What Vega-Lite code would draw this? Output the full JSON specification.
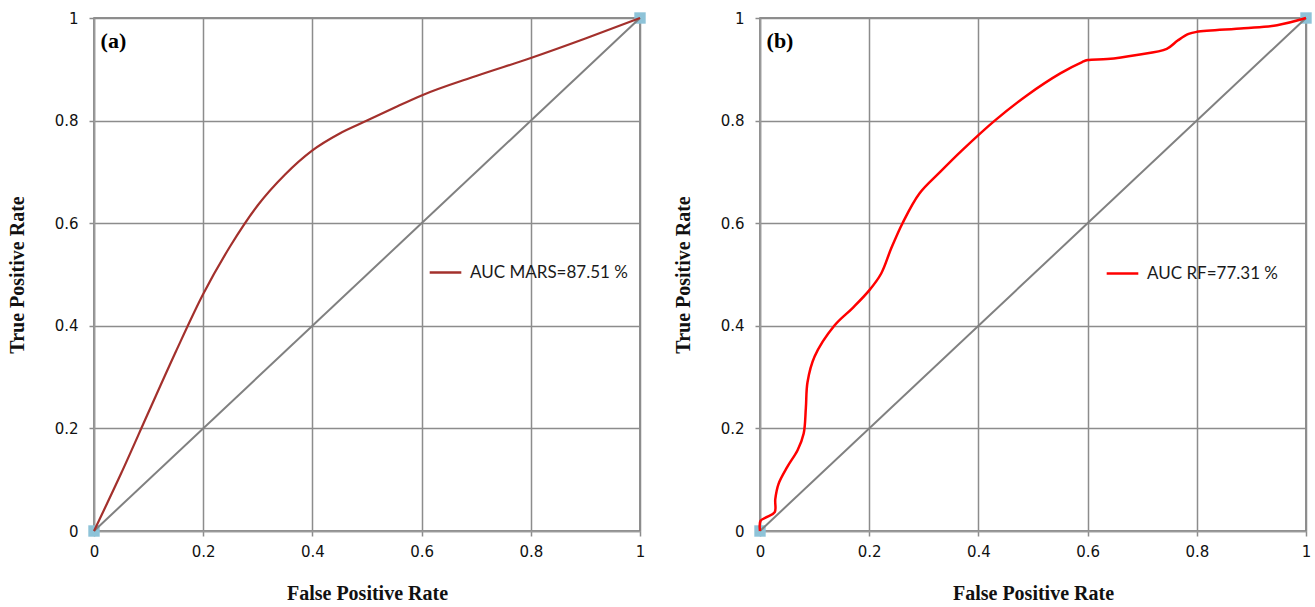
{
  "$schema": "https://vega.github.io/schema/vega-lite/v6.json",
  "background": "white",
  "padding": {"left": 6, "top": 10, "right": 5, "bottom": 5},
  "datasets": {
    "mars": [
      {"fpr": 0, "tpr": 0}, {"fpr": 0.05, "tpr": 0.113}, {"fpr": 0.1, "tpr": 0.232}, {"fpr": 0.15, "tpr": 0.35},
      {"fpr": 0.2, "tpr": 0.462}, {"fpr": 0.25, "tpr": 0.556}, {"fpr": 0.3, "tpr": 0.635}, {"fpr": 0.35, "tpr": 0.695},
      {"fpr": 0.4, "tpr": 0.742}, {"fpr": 0.45, "tpr": 0.775}, {"fpr": 0.5, "tpr": 0.8}, {"fpr": 0.55, "tpr": 0.825},
      {"fpr": 0.6, "tpr": 0.849}, {"fpr": 0.7, "tpr": 0.887}, {"fpr": 0.8, "tpr": 0.922}, {"fpr": 0.9, "tpr": 0.96},
      {"fpr": 1, "tpr": 1}
    ],
    "rf": [
      {"fpr": 0, "tpr": 0}, {"fpr": 0.001, "tpr": 0.02}, {"fpr": 0.012, "tpr": 0.027}, {"fpr": 0.027, "tpr": 0.037},
      {"fpr": 0.028, "tpr": 0.062}, {"fpr": 0.034, "tpr": 0.092}, {"fpr": 0.05, "tpr": 0.125}, {"fpr": 0.069, "tpr": 0.158},
      {"fpr": 0.08, "tpr": 0.19}, {"fpr": 0.084, "tpr": 0.24}, {"fpr": 0.087, "tpr": 0.29}, {"fpr": 0.1, "tpr": 0.34},
      {"fpr": 0.136, "tpr": 0.4}, {"fpr": 0.17, "tpr": 0.435}, {"fpr": 0.2, "tpr": 0.469}, {"fpr": 0.222, "tpr": 0.502},
      {"fpr": 0.24, "tpr": 0.55}, {"fpr": 0.261, "tpr": 0.6}, {"fpr": 0.292, "tpr": 0.658}, {"fpr": 0.33, "tpr": 0.7},
      {"fpr": 0.37, "tpr": 0.742}, {"fpr": 0.43, "tpr": 0.8}, {"fpr": 0.49, "tpr": 0.85}, {"fpr": 0.55, "tpr": 0.892},
      {"fpr": 0.59, "tpr": 0.914}, {"fpr": 0.6, "tpr": 0.918}, {"fpr": 0.636, "tpr": 0.92}, {"fpr": 0.69, "tpr": 0.928},
      {"fpr": 0.745, "tpr": 0.94}, {"fpr": 0.765, "tpr": 0.956}, {"fpr": 0.785, "tpr": 0.969}, {"fpr": 0.8, "tpr": 0.973},
      {"fpr": 0.886, "tpr": 0.98}, {"fpr": 0.947, "tpr": 0.986}, {"fpr": 1, "tpr": 1}
    ],
    "diag": [{"fpr": 0, "tpr": 0}, {"fpr": 1, "tpr": 1}],
    "labA": [{"fpr": 0.012, "tpr": 0.975, "label": "(a)"}],
    "labB": [{"fpr": 0.012, "tpr": 0.975, "label": "(b)"}]
  },
  "config": {
    "view": {"stroke": "#6b6b6b", "strokeWidth": 1.5},
    "axis": {
      "grid": true, "gridColor": "#8c8c8c", "gridWidth": 1.5, "gridOpacity": 1,
      "domainColor": "#9a9a9a", "domainWidth": 1.5,
      "tickColor": "#8c8c8c", "tickSize": 5, "tickWidth": 1.5, "labelFlush": false,
      "labelFont": "DejaVu Sans", "labelFontSize": 15, "labelColor": "#111",
      "titleFont": "Liberation Serif", "titleFontSize": 20, "titleFontWeight": "bold", "titleColor": "#111"
    },
    "axisX": {"labelPadding": 8, "titlePadding": 24},
    "axisY": {"labelPadding": 11, "titlePadding": 27},
    "legend": {
      "orient": "none", "title": null, "symbolType": "stroke", "symbolStrokeWidth": 2.5, "symbolSize": 1000,
      "labelFont": "Lato", "labelFontSize": 17, "labelColor": "#1a1a1a", "labelOffset": 7
    }
  },
  "spacing": 25,
  "resolve": {"scale": {"color": "independent"}, "legend": {"color": "independent"}},
  "hconcat": [
    {
      "width": 546, "height": 513,
      "encoding": {
        "x": {"field": "fpr", "type": "quantitative", "scale": {"domain": [0, 1], "nice": false}, "axis": {"values": [0, 0.2, 0.4, 0.6, 0.8, 1], "format": "~g", "title": "False Positive Rate"}},
        "y": {"field": "tpr", "type": "quantitative", "scale": {"domain": [0, 1], "nice": false}, "axis": {"values": [0, 0.2, 0.4, 0.6, 0.8, 1], "format": "~g", "title": "True Positive Rate"}}
      },
      "layer": [
        {"data": {"name": "diag"}, "mark": {"type": "point", "shape": "square", "filled": true, "color": "#8ec3d8", "opacity": 1, "size": 130}},
        {"data": {"name": "diag"}, "mark": {"type": "line", "color": "#808080", "strokeWidth": 2}},
        {"data": {"name": "mars"}, "mark": {"type": "line", "interpolate": "monotone", "strokeWidth": 2.2},
          "encoding": {"color": {"datum": "AUC MARS=87.51 %", "type": "nominal", "scale": {"range": ["#a3302c"]},
            "legend": {"legendX": 334, "legendY": 237, "encode": {"symbols": {"update": {"stroke": {"value": "#ff0000"}}}}}}}},
        {"data": {"name": "labA"}, "mark": {"type": "text", "align": "left", "baseline": "top", "font": "Liberation Serif", "fontWeight": "bold", "fontSize": 22, "fill": "#000"},
          "encoding": {"text": {"field": "label", "type": "nominal"}}}
      ]
    },
    {
      "width": 546, "height": 513,
      "encoding": {
        "x": {"field": "fpr", "type": "quantitative", "scale": {"domain": [0, 1], "nice": false}, "axis": {"values": [0, 0.2, 0.4, 0.6, 0.8, 1], "format": "~g", "title": "False Positive Rate"}},
        "y": {"field": "tpr", "type": "quantitative", "scale": {"domain": [0, 1], "nice": false}, "axis": {"values": [0, 0.2, 0.4, 0.6, 0.8, 1], "format": "~g", "title": "True Positive Rate"}}
      },
      "layer": [
        {"data": {"name": "diag"}, "mark": {"type": "point", "shape": "square", "filled": true, "color": "#8ec3d8", "opacity": 1, "size": 130}},
        {"data": {"name": "diag"}, "mark": {"type": "line", "color": "#808080", "strokeWidth": 2}},
        {"data": {"name": "rf"}, "mark": {"type": "line", "interpolate": "catmull-rom", "strokeWidth": 2.5},
          "encoding": {"color": {"datum": "AUC RF=77.31 %", "type": "nominal", "scale": {"range": ["#ff0000"]},
            "legend": {"legendX": 345, "legendY": 238}}}},
        {"data": {"name": "labB"}, "mark": {"type": "text", "align": "left", "baseline": "top", "font": "Liberation Serif", "fontWeight": "bold", "fontSize": 22, "fill": "#000"},
          "encoding": {"text": {"field": "label", "type": "nominal"}}}
      ]
    }
  ]
}
